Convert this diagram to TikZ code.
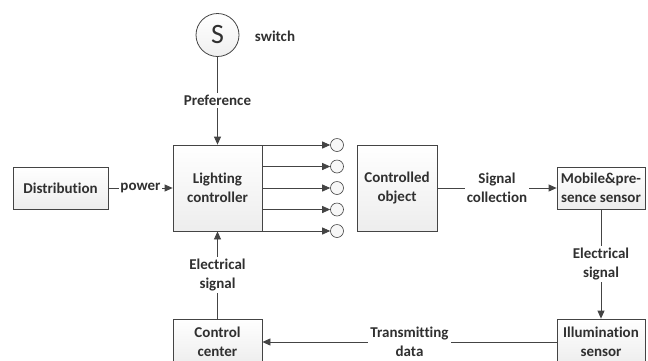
\documentclass[tikz,border=0pt]{standalone}
\usepackage{fontspec}
\setmainfont{Carlito}[Ligatures=NoCommon]
\usetikzlibrary{arrows.meta}
\definecolor{ln}{HTML}{444444}
\definecolor{tx}{HTML}{303030}
\begin{document}
\begin{tikzpicture}[x=1pt,y=-1pt,
  font=\fontsize{15}{19}\selectfont\bfseries, text=tx,
  blk/.style={draw=ln, line width=0.8pt, top color=white, bottom color=gray!14, align=center, inner sep=0pt},
  conn/.style={draw=ln, line width=0.8pt, -{Triangle[length=8pt,width=7pt]}},
  lbl/.style={fill=white, inner sep=2pt, align=center},
  outc/.style={circle, draw=ln, line width=0.6pt, fill=gray!6, minimum size=13pt, inner sep=0pt}]
\useasboundingbox (0,0) rectangle (648,360);
\clip (0,0) rectangle (648,360);
\fill[white] (0,0) rectangle (648,360);

\node[circle, draw=ln, line width=0.8pt, top color=white, bottom color=gray!12, minimum size=43pt, inner sep=0pt, font=\fontsize{28}{28}\selectfont\mdseries] (sw) at (217.5,35) {S};
\node (swl) at (275,36) {switch};

\node[blk, minimum width=95pt, minimum height=42pt] (dist) at (60.5,188) {Distribution};
\node[blk, minimum width=89pt, minimum height=86pt] (lc) at (217.5,188) {Lighting\\controller};
\node[blk, minimum width=80pt, minimum height=86pt] (co) at (397,188) {Controlled\\object};
\node[blk, minimum width=88pt, minimum height=42pt] (ms) at (601,188) {Mobile\&pre-\\sence sensor};
\node[blk, minimum width=88pt, minimum height=46pt] (il) at (601,342) {Illumination\\sensor};
\node[blk, minimum width=89pt, minimum height=46pt] (cc) at (217.5,342) {Control\\center};

\foreach \i/\y in {1/145,2/166.5,3/188,4/209.5,5/231}{
  \node[outc] (o\i) at (337,\y) {};
  \coordinate (s\i) at (lc.east |- o\i);
  \draw[conn] (s\i) -- (o\i);
}

\draw[conn] (sw) -- node[lbl] {Preference} (lc);
\draw[conn] (dist) -- node[lbl, inner sep=1pt] {power} (lc);
\draw[conn] (co) -- node[lbl] {Signal\\collection} (ms);
\draw[conn] (ms) -- node[lbl] {Electrical\\signal} (il);
\draw[conn] (il) -- node[lbl] {Transmitting\\data} (cc);
\draw[conn] (cc) -- node[lbl] {Electrical\\signal} (lc);
\end{tikzpicture}
\end{document}
